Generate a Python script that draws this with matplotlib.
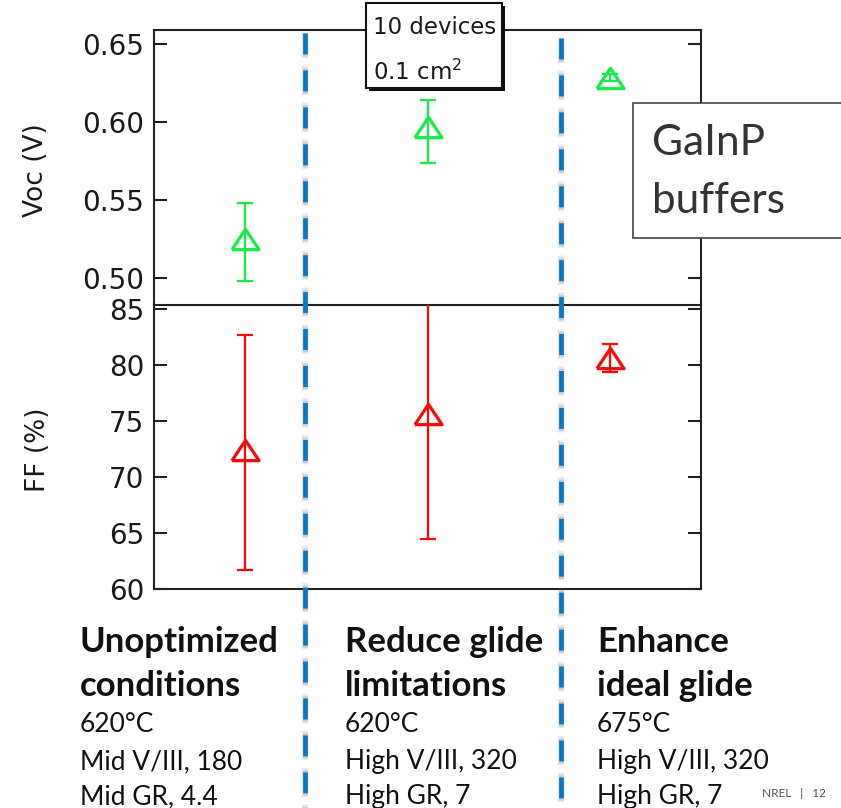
import numpy as np
import matplotlib.pyplot as plt
from matplotlib.lines import Line2D
from matplotlib.patches import Rectangle
from matplotlib.markers import MarkerStyle

plt.rcParams['lines.scale_dashes'] = False

# Growth conditions (one per column)
groups = [1, 2, 3]

# Open-circuit voltage, V
voc = [0.5253, 0.5965, 0.6285]
voc_lo = [0.498, 0.5737, 0.6265]
voc_hi = [0.548, 0.614, 0.6305]

# Fill factor, %
ff = [72.4, 75.6, 80.6]
ff_lo = [61.7, 64.5, 79.4]
ff_hi = [82.7, 86.5, 81.9]

voc_ticks = [0.50, 0.55, 0.60, 0.65]
ff_ticks = [60, 65, 70, 75, 80, 85]

headings = [["Unoptimized", "conditions"],
            ["Reduce glide", "limitations"],
            ["Enhance", "ideal glide"]]
details = [["620°C", "Mid V/III, 180", "Mid GR, 4.4"],
           ["620°C", "High V/III, 320", "High GR, 7"],
           ["675°C", "High V/III, 320", "High GR, 7"]]

# Colors:
green = "#11ee44"
red = "#ff0606"
blue = "#0a78c4"
frame = "#222222"

W, H = 841, 808
fig = plt.figure(figsize=(W / 100, H / 100), dpi=100)


def fx(x):
    return x / W


def fy(y):
    return 1 - y / H


# flattened open triangle
tri = MarkerStyle([(-1, -0.75), (1, -0.75), (0, 0.75), (-1, -0.75)])

ax_voc = fig.add_axes([fx(154), fy(305), fx(701 - 154), (305 - 30) / H])
ax_ff = fig.add_axes([fx(154), fy(589), fx(701 - 154), (589 - 305) / H])


def style_axis(ax, ticks, ylim, fmt):
    ax.set_xlim(0.5, 3.5)
    ax.set_ylim(*ylim)
    ax.set_xticks([])
    ax.set_yticks(ticks)
    ax.set_yticklabels([fmt.format(t) for t in ticks])
    ax.tick_params(axis="y", direction="in", length=9.4, width=1.5, color=frame,
                   labelsize=20, pad=7, right=True, labelcolor="#1a1a1a")
    for s in ax.spines.values():
        s.set_linewidth(1.5)
        s.set_color(frame)
    ax.patch.set_alpha(0)


style_axis(ax_voc, voc_ticks, (0.4827, 0.659), "{:.2f}")
style_axis(ax_ff, ff_ticks, (60, 85.36), "{:.0f}")
ax_voc.spines["bottom"].set_visible(False)

for ax, vals, lo, hi, col in [(ax_voc, voc, voc_lo, voc_hi, green),
                              (ax_ff, ff, ff_lo, ff_hi, red)]:
    vals = np.array(vals)
    err = [vals - np.array(lo), np.array(hi) - vals]
    ax.errorbar(groups, vals, yerr=err, fmt="none", ecolor=col, elinewidth=1.6,
                capsize=6, capthick=1.6, zorder=3)
    ax.plot(groups, vals, linestyle="none", marker=tri, markersize=19.5,
            markerfacecolor="none", markeredgecolor=col, markeredgewidth=2.3, zorder=4)

fig.text(fx(36), fy(170), "Voc (V)", rotation=90, ha="center", va="center",
         fontsize=19, color="#1a1a1a")
fig.text(fx(38), fy(450), "FF (%)", rotation=90, ha="center", va="center",
         fontsize=19, color="#1a1a1a")

# dashed dividers running down through the captions, with a faint gray shadow
dash_on, dash_off = 15.1, 11.5
for x, y0 in [(305, 33), (561, 38)]:
    for grow, a, lw in [(3.0, 0.15, 4.6), (1.6, 0.22, 3.8)]:
        fig.add_artist(Line2D([fx(x), fx(x)], [fy(y0), fy(H + 20)],
                              color="#707070", alpha=a, lw=lw,
                              linestyle=(grow, (dash_on + 2 * grow, dash_off - 2 * grow)),
                              dash_capstyle="butt", zorder=5))
    fig.add_artist(Line2D([fx(x), fx(x)], [fy(y0), fy(H + 20)], color=blue, lw=3.4,
                          linestyle=(0, (dash_on, dash_off)), dash_capstyle="butt",
                          zorder=6))

# sample info box
fig.add_artist(Rectangle((fx(369), fy(91)), fx(136), 85 / H, facecolor="#111111",
                         edgecolor="none", zorder=7))
fig.add_artist(Rectangle((fx(366), fy(88)), fx(136), 85 / H, facecolor="white",
                         edgecolor="#111111", lw=1.5, zorder=8))
fig.text(fx(373), fy(27), "10 devices", ha="left", va="center", fontsize=16.5,
         color="#1a1a1a", zorder=9)
fig.text(fx(373), fy(72), "0.1 cm$^2$", ha="left", va="center", fontsize=16.5,
         color="#1a1a1a", zorder=9)

# GaInP label box
fig.add_artist(Rectangle((fx(633), fy(238)), fx(230), 135 / H, facecolor="white",
                         edgecolor="#444444", lw=1.2, zorder=8))
fig.text(fx(652), fy(143), "GaInP", ha="left", va="center", fontsize=30.5,
         family="Lato", color="#333333", zorder=9)
fig.text(fx(652), fy(201), "buffers", ha="left", va="center", fontsize=30.5,
         family="Lato", color="#333333", zorder=9)

# captions under each column
col_x = [80, 345, 597]
head_base = [652, 696]
detail_base = [732, 769, 804]
for cx, head, det in zip(col_x, headings, details):
    for yb, t in zip(head_base, head):
        fig.text(fx(cx), fy(yb), t, ha="left", va="baseline", fontsize=25,
                 family="Lato", fontweight="bold", color="#111111")
    for yb, t in zip(detail_base, det):
        fig.text(fx(cx), fy(yb), t, ha="left", va="baseline", fontsize=19,
                 family="Lato", color="#111111")

fig.text(fx(762), fy(797), "NREL   |   12", ha="left", va="baseline", fontsize=8.5,
         family="Lato", color="#555555")

fig.savefig("out.png", dpi=100, facecolor="white")
